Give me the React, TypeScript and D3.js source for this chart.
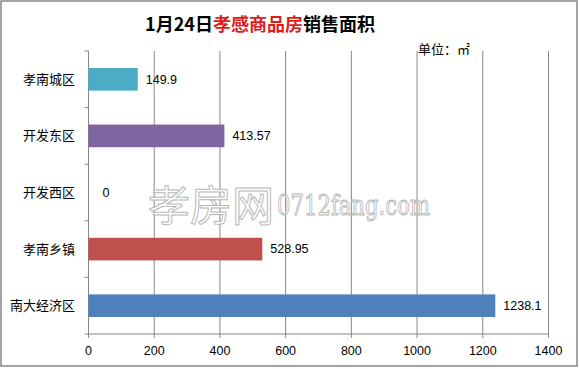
import React from "react";
import * as d3 from "d3";

const categories = ["孝南城区", "开发东区", "开发西区", "孝南乡镇", "南大经济区"];
const values = [149.9, 413.57, 0, 528.95, 1238.1];
const valueLabels = ["149.9", "413.57", "0", "528.95", "1238.1"];
const colors = ["#4BACC6", "#8064A2", "#4BACC6", "#C0504D", "#4F81BD"];
const xTicks = [0, 200, 400, 600, 800, 1000, 1200, 1400];

const W = 579;
const H = 369;
const left = 88.5;
const right = 548.5;
const top = 51;
const bottom = 334;

export default function App() {
  const x = d3.scaleLinear().domain([0, 1400]).range([left, right]);
  const y = d3.scaleBand<string>().domain(categories).range([top, bottom]).paddingInner(0.6).paddingOuter(0.3);
  const band = (bottom - top) / categories.length;
  const font = "'Liberation Sans', 'Noto Sans CJK SC', sans-serif";
  const cjk = "'Noto Sans CJK SC', sans-serif";
  return (
    <svg width={W} height={H} style={{ position: "absolute", left: 0, top: 0, background: "#fff" }}>
      <rect x={1} y={1} width={576} height={365} fill="#fff" stroke="#868686" strokeWidth={1.5} />
      <text x={260} y={31} textAnchor="middle" fontSize={18} fontWeight="bold" fontFamily={cjk}>
        <tspan fill="#000">1月24日</tspan>
        <tspan fill="#E21A1A">孝感商品房</tspan>
        <tspan fill="#000">销售面积</tspan>
      </text>
      <text x={418} y={54} fontSize={13} fontFamily={cjk} fill="#000">单位：㎡</text>
      {/* grid lines */}
      {xTicks.map((t) => (
        <line key={"g" + t} x1={x(t)} x2={x(t)} y1={top} y2={bottom + 4} stroke="#888" strokeWidth={1} />
      ))}
      {/* watermark */}
      <text x={148} y={221} fontSize={42} fontFamily={cjk} fill="#fff" stroke="#b8b8b8" strokeWidth={1}>孝房网</text>
      <text x={277} y={215} fontSize={27} fontFamily="'DejaVu Serif', serif" textLength={153} lengthAdjust="spacingAndGlyphs" fill="#fff" stroke="#b8b8b8" strokeWidth={1}>0712fang.com</text>
      {/* category axis */}
      <line x1={left} x2={left} y1={top} y2={bottom} stroke="#888" strokeWidth={1} />
      {d3.range(categories.length + 1).map((i) => (
        <line key={"t" + i} x1={left - 4} x2={left} y1={top + i * band} y2={top + i * band} stroke="#888" strokeWidth={1} />
      ))}
      <line x1={left} x2={right} y1={bottom} y2={bottom} stroke="#888" strokeWidth={1} />
      {categories.map((c, i) => (
        <g key={c}>
          {values[i] > 0 && (
            <rect x={x(0)} y={y(c)!} width={x(values[i]) - x(0)} height={y.bandwidth()} fill={colors[i]} />
          )}
          <text x={75} y={y(c)! + y.bandwidth() / 2} dy="0.35em" textAnchor="end" fontSize={13} fontFamily={cjk} fill="#000">{c}</text>
          <text x={x(values[i]) + 8 + (values[i] === 0 ? 6 : 0)} y={y(c)! + y.bandwidth() / 2} dy="0.35em" fontSize={12.5} fontFamily={font} fill="#000">{valueLabels[i]}</text>
        </g>
      ))}
      {xTicks.map((t) => (
        <text key={"l" + t} x={x(t)} y={355} textAnchor="middle" fontSize={12.5} fontFamily={font} fill="#000">{t}</text>
      ))}
    </svg>
  );
}
